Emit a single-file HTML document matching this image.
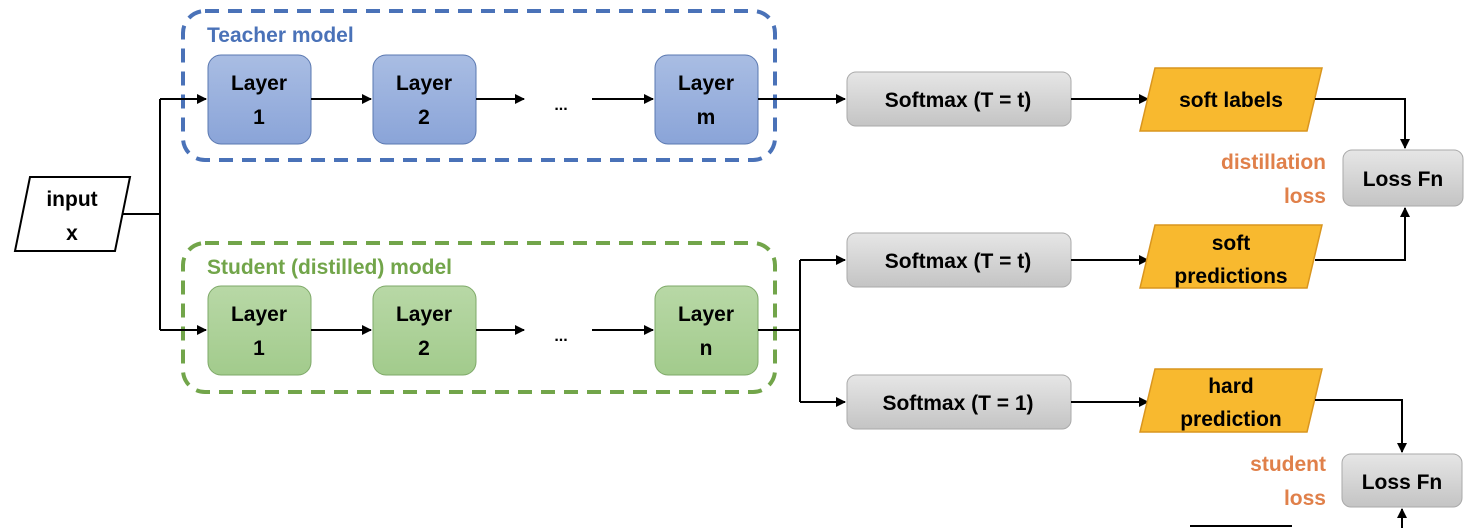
<!DOCTYPE html>
<html><head><meta charset="utf-8"><style>
html,body{margin:0;padding:0;background:#fff;}
svg{display:block;}
text{font-family:"Liberation Sans Narrow","Liberation Sans",sans-serif;font-weight:bold;}
</style></head><body>
<svg width="1471" height="528" viewBox="0 0 1471 528" xmlns="http://www.w3.org/2000/svg">
<defs>
<marker id="a" markerWidth="10" markerHeight="10" refX="9" refY="5" orient="auto" markerUnits="userSpaceOnUse"><path d="M0,0 L10,5 L0,10 z" fill="#000"/></marker>
<linearGradient id="gb" x1="0" y1="0" x2="0" y2="1"><stop offset="0" stop-color="#a9bde3"/><stop offset="1" stop-color="#8aa4d8"/></linearGradient>
<linearGradient id="gg" x1="0" y1="0" x2="0" y2="1"><stop offset="0" stop-color="#b8d8a6"/><stop offset="1" stop-color="#a2cb8c"/></linearGradient>
<linearGradient id="gr" x1="0" y1="0" x2="0" y2="1"><stop offset="0" stop-color="#e6e6e6"/><stop offset="1" stop-color="#c4c4c4"/></linearGradient>
</defs>
<!-- dashed containers -->
<rect x="183" y="11" width="592" height="149" rx="22" fill="none" stroke="#4a72b8" stroke-width="4" stroke-dasharray="14,9"/>
<rect x="183" y="243" width="592" height="149" rx="22" fill="none" stroke="#72a54a" stroke-width="4" stroke-dasharray="14,9"/>
<text x="207" y="42" font-size="21" fill="#4a72b8">Teacher model</text>
<text x="207" y="274" font-size="21" fill="#72a54a">Student (distilled) model</text>
<!-- input -->
<polygon points="30,177 130,177 115,251 15,251" fill="#fff" stroke="#000" stroke-width="2"/>
<text x="72" y="206" font-size="21" text-anchor="middle">input</text>
<text x="72" y="240" font-size="21" text-anchor="middle">x</text>
<path d="M122,214 H160 M160,99 V330" stroke="#000" stroke-width="2" fill="none"/>
<path d="M160,99 H206" stroke="#000" stroke-width="2" marker-end="url(#a)"/>
<path d="M160,330 H206" stroke="#000" stroke-width="2" marker-end="url(#a)"/>
<!-- teacher layers -->
<g stroke="#5a78b0" stroke-width="1" fill="url(#gb)">
<rect x="208" y="55" width="103" height="89" rx="13"/>
<rect x="373" y="55" width="103" height="89" rx="13"/>
<rect x="655" y="55" width="103" height="89" rx="13"/>
</g>
<g font-size="21" text-anchor="middle">
<text x="259" y="90">Layer</text><text x="259" y="124">1</text>
<text x="424" y="90">Layer</text><text x="424" y="124">2</text>
<text x="706" y="90">Layer</text><text x="706" y="124">m</text>
</g>
<g stroke="#000" stroke-width="2" marker-end="url(#a)">
<path d="M311,99 H371"/><path d="M476,99 H524"/><path d="M592,99 H653"/>
<path d="M758,99 H845"/>
</g>
<text x="561" y="110" font-size="16" text-anchor="middle">...</text>
<!-- student layers -->
<g stroke="#7ea968" stroke-width="1" fill="url(#gg)">
<rect x="208" y="286" width="103" height="89" rx="13"/>
<rect x="373" y="286" width="103" height="89" rx="13"/>
<rect x="655" y="286" width="103" height="89" rx="13"/>
</g>
<g font-size="21" text-anchor="middle">
<text x="259" y="321">Layer</text><text x="259" y="355">1</text>
<text x="424" y="321">Layer</text><text x="424" y="355">2</text>
<text x="706" y="321">Layer</text><text x="706" y="355">n</text>
</g>
<g stroke="#000" stroke-width="2" marker-end="url(#a)">
<path d="M311,330 H371"/><path d="M476,330 H524"/><path d="M592,330 H653"/>
</g>
<text x="561" y="341" font-size="16" text-anchor="middle">...</text>
<path d="M758,330 H800 M800,260 V402" stroke="#000" stroke-width="2" fill="none"/>
<path d="M800,260 H845" stroke="#000" stroke-width="2" marker-end="url(#a)"/>
<path d="M800,402 H845" stroke="#000" stroke-width="2" marker-end="url(#a)"/>
<!-- softmax -->
<g stroke="#aaa" stroke-width="1" fill="url(#gr)">
<rect x="847" y="72" width="224" height="54" rx="9"/>
<rect x="847" y="233" width="224" height="54" rx="9"/>
<rect x="847" y="375" width="224" height="54" rx="9"/>
<rect x="1343" y="150" width="120" height="56" rx="9"/>
<rect x="1342" y="454" width="120" height="53" rx="9"/>
</g>
<g font-size="21" text-anchor="middle">
<text x="958" y="107">Softmax (T = t)</text>
<text x="958" y="268">Softmax (T = t)</text>
<text x="958" y="410">Softmax (T = 1)</text>
<text x="1403" y="186">Loss Fn</text>
<text x="1402" y="489">Loss Fn</text>
</g>
<g stroke="#000" stroke-width="2" marker-end="url(#a)">
<path d="M1071,99 H1148"/><path d="M1071,260 H1148"/><path d="M1071,402 H1148"/>
</g>
<!-- parallelograms -->
<g fill="#f8b92f" stroke="#d9951e" stroke-width="1.5">
<polygon points="1155,68 1322,68 1307,131 1140,131"/>
<polygon points="1155,225 1322,225 1307,288 1140,288"/>
<polygon points="1155,369 1322,369 1307,432 1140,432"/>
</g>
<g font-size="21" text-anchor="middle">
<text x="1231" y="107">soft labels</text>
<text x="1231" y="250">soft</text><text x="1231" y="283">predictions</text>
<text x="1231" y="393">hard</text><text x="1231" y="426">prediction</text>
</g>
<path d="M1315,99 H1405 V148" stroke="#000" stroke-width="2" fill="none" marker-end="url(#a)"/>
<path d="M1315,260 H1405 V208" stroke="#000" stroke-width="2" fill="none" marker-end="url(#a)"/>
<path d="M1315,400 H1402 V452" stroke="#000" stroke-width="2" fill="none" marker-end="url(#a)"/>
<path d="M1402,528 V509" stroke="#000" stroke-width="2" fill="none" marker-end="url(#a)"/>
<path d="M1190,526 H1292" stroke="#000" stroke-width="2"/>
<g font-size="21" text-anchor="end" fill="#e0804a">
<text x="1326" y="169">distillation</text><text x="1326" y="203">loss</text>
<text x="1326" y="471">student</text><text x="1326" y="505">loss</text>
</g>
</svg>
</body></html>
